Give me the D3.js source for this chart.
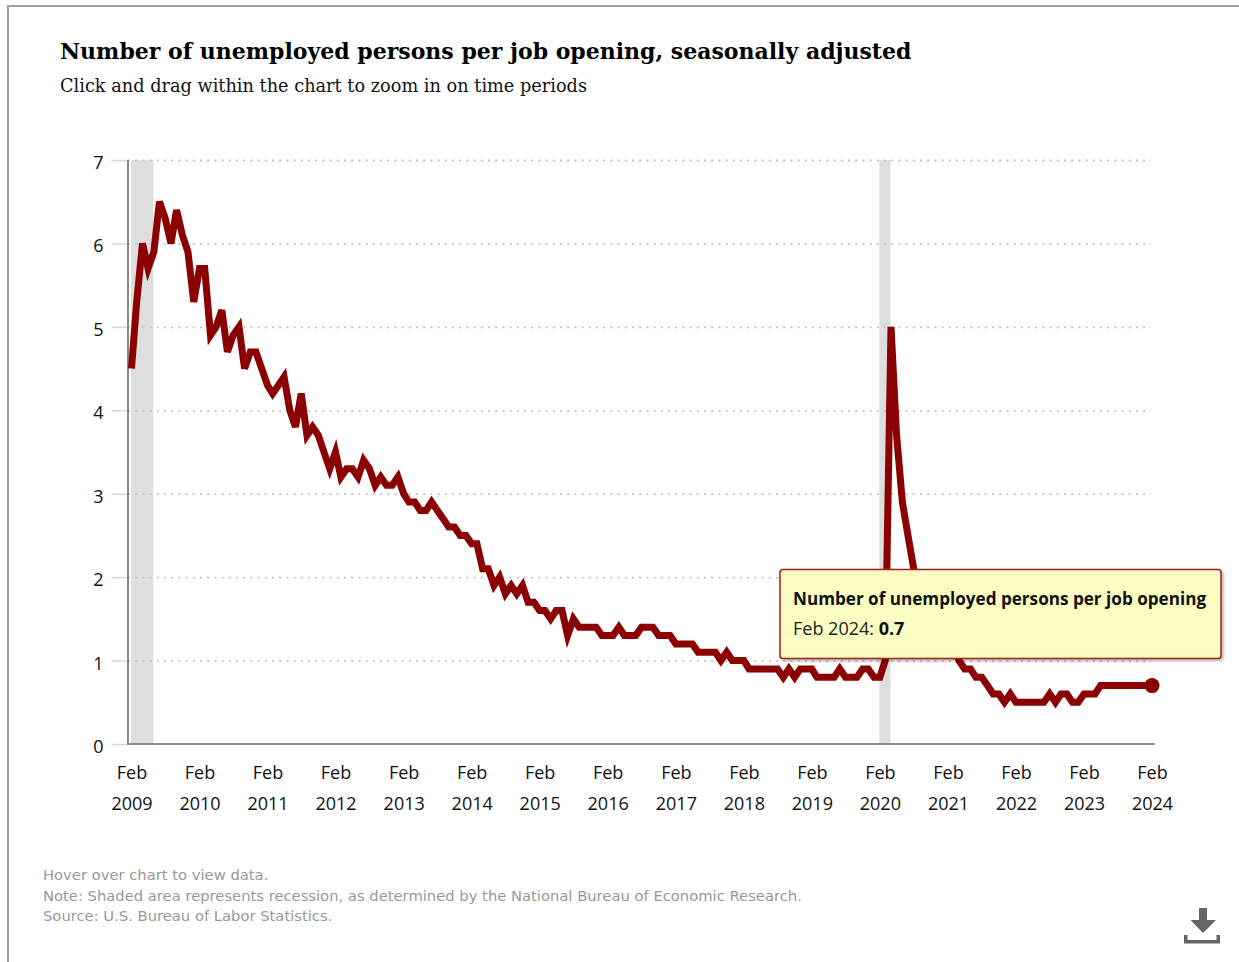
<!DOCTYPE html>
<html>
<head>
<meta charset="utf-8">
<script src="https://cdnjs.cloudflare.com/ajax/libs/d3/7.8.5/d3.min.js"></script>
<style>
  body { margin: 0; background: #fff; }
  svg { display: block; }
  .title { font-family: "DejaVu Serif", serif; font-weight: bold; font-size: 22px; fill: #000; }
  .subtitle { font-family: "DejaVu Serif", serif; font-size: 17.73px; fill: #111; }
  .tick text { font-family: "Open Sans", sans-serif; font-size: 18px; fill: #111; }
  .footnote { font-family: "DejaVu Sans", sans-serif; font-size: 14.75px; fill: #999; }
  .tipTitle { font-family: "Open Sans", sans-serif; font-weight: bold; font-size: 17.12px; fill: #111; }
  .tipText { font-family: "Open Sans", sans-serif; font-size: 18px; fill: #222; }
</style>
</head>
<body>
<div id="chart"></div>
<script>
// Values, one row per 12 months starting Feb 2009
var ratio = [
  4.5, 5.3, 6.0, 5.7, 5.9, 6.5, 6.3, 6.0, 6.4, 6.1, 5.9, 5.3,
  5.7, 5.7, 4.9, 5.0, 5.2, 4.7, 4.9, 5.0, 4.5, 4.7, 4.7, 4.5,
  4.3, 4.2, 4.3, 4.4, 4.0, 3.8, 4.2, 3.7, 3.8, 3.7, 3.5, 3.3,
  3.5, 3.2, 3.3, 3.3, 3.2, 3.4, 3.3, 3.1, 3.2, 3.1, 3.1, 3.2,
  3.0, 2.9, 2.9, 2.8, 2.8, 2.9, 2.8, 2.7, 2.6, 2.6, 2.5, 2.5,
  2.4, 2.4, 2.1, 2.1, 1.9, 2.0, 1.8, 1.9, 1.8, 1.9, 1.7, 1.7,
  1.6, 1.6, 1.5, 1.6, 1.6, 1.3, 1.5, 1.4, 1.4, 1.4, 1.4, 1.3,
  1.3, 1.3, 1.4, 1.3, 1.3, 1.3, 1.4, 1.4, 1.4, 1.3, 1.3, 1.3,
  1.2, 1.2, 1.2, 1.2, 1.1, 1.1, 1.1, 1.1, 1.0, 1.1, 1.0, 1.0,
  1.0, 0.9, 0.9, 0.9, 0.9, 0.9, 0.9, 0.8, 0.9, 0.8, 0.9, 0.9,
  0.9, 0.8, 0.8, 0.8, 0.8, 0.9, 0.8, 0.8, 0.8, 0.9, 0.9, 0.8,
  0.8, 1.0, 5.0, 3.7, 2.9, 2.5, 2.1, 1.9, 1.7, 1.6, 1.5, 1.6,
  1.4, 1.2, 1.0, 0.9, 0.9, 0.8, 0.8, 0.7, 0.6, 0.6, 0.5, 0.6,
  0.5, 0.5, 0.5, 0.5, 0.5, 0.5, 0.6, 0.5, 0.6, 0.6, 0.5, 0.5,
  0.6, 0.6, 0.6, 0.7, 0.7, 0.7, 0.7, 0.7, 0.7, 0.7, 0.7, 0.7,
  0.7
];
var yTicks = [0, 1, 2, 3, 4, 5, 6, 7];
var tickYears = [2009, 2010, 2011, 2012, 2013, 2014, 2015, 2016, 2017, 2018, 2019, 2020, 2021, 2022, 2023, 2024];
var recessionStart = [[2009, 1], [2020, 1]];
var recessionEnd = [[2009, 5], [2020, 3]];
var footnotes = [
  "Hover over chart to view data.",
  "Note: Shaded area represents recession, as determined by the National Bureau of Economic Research.",
  "Source: U.S. Bureau of Labor Statistics."
];

var svgWidth = 1239;
var svgHeight = 962;

var margin = { top: 160, right: 87, bottom: 218, left: 131.5 };
var width = svgWidth - margin.left - margin.right;
var height = svgHeight - margin.top - margin.bottom;

var svg = d3.select("#chart")
  .append("svg")
  .attr("width", svgWidth)
  .attr("height", svgHeight);

// Outer frame, only top and left show
svg.append("line").attr("x1", 8).attr("x2", 1239).attr("y1", 6).attr("y2", 6)
  .attr("stroke", "#a0a0a0").attr("stroke-width", 2);
svg.append("line").attr("x1", 8).attr("x2", 8).attr("y1", 5).attr("y2", 962)
  .attr("stroke", "#a0a0a0").attr("stroke-width", 2);

svg.append("text").attr("class", "title").attr("x", 60).attr("y", 59)
  .text("Number of unemployed persons per job opening, seasonally adjusted");
svg.append("text").attr("class", "subtitle").attr("x", 60).attr("y", 92)
  .text("Click and drag within the chart to zoom in on time periods");

var chartGroup = svg.append("g")
  .attr("transform", `translate(${margin.left}, ${margin.top})`);

var months = d3.timeMonth.range(new Date(2009, 1, 1), new Date(2024, 2, 1));

var x = d3.scaleTime()
  .domain([months[0], months[months.length - 1]])
  .range([0, width]);

var y = d3.scaleLinear()
  .domain([0, 7])
  .range([height, 0]);

// Recession bands
recessionStart.forEach(function(s, i) {
  var e = recessionEnd[i];
  chartGroup.append("rect")
    .attr("x", x(new Date(s[0], s[1], 1)) - 0.5)
    .attr("y", 0)
    .attr("width", x(new Date(e[0], e[1], 1)) - x(new Date(s[0], s[1], 1)))
    .attr("height", height)
    .attr("fill", "#dedede");
});

// Y axis with dotted grid lines
var leftAxis = d3.axisLeft(y)
  .tickValues(yTicks)
  .tickFormat(d3.format("d"))
  .tickSize(0)
  .tickPadding(28);

var yAxis = chartGroup.append("g").call(leftAxis);
yAxis.select(".domain").remove();
yAxis.selectAll(".tick text").attr("dy", "0.47em");

yAxis.selectAll(".tick").append("line")
  .attr("x1", -20).attr("x2", -3.5)
  .attr("stroke", "#ccd6eb").attr("stroke-width", 1.5);

yAxis.selectAll(".tick").filter(d => d > 0).append("line")
  .attr("x1", -3.5).attr("x2", width - 1)
  .attr("stroke", "#c4c4c4").attr("stroke-width", 1.8)
  .attr("stroke-dasharray", "2 5.2");

// X axis with two line labels
var bottomAxis = d3.axisBottom(x)
  .tickValues(tickYears.map(yr => new Date(yr, 1, 1)))
  .tickSize(0)
  .tickPadding(0)
  .tickFormat("");

var xAxis = chartGroup.append("g")
  .attr("transform", `translate(0, ${height})`)
  .call(bottomAxis);
xAxis.select(".domain").remove();

xAxis.selectAll(".tick text").each(function(d) {
  var t = d3.select(this).attr("y", 0).attr("dy", null);
  t.append("tspan").attr("x", 0).attr("y", 35).text("Feb");
  t.append("tspan").attr("x", 0).attr("y", 66).text(d.getFullYear());
});

chartGroup.append("line")
  .attr("x1", -3.5).attr("x2", -3.5).attr("y1", 0).attr("y2", height + 1)
  .attr("stroke", "#8a8a8a").attr("stroke-width", 2);
chartGroup.append("line")
  .attr("x1", -4.5).attr("x2", width + 3).attr("y1", height).attr("y2", height)
  .attr("stroke", "#8a8a8a").attr("stroke-width", 2);

// Line and last point
var line = d3.line()
  .x((d, i) => x(months[i]))
  .y(d => y(d));

chartGroup.append("path")
  .datum(ratio)
  .attr("d", line)
  .attr("fill", "none")
  .attr("stroke", "#8b0000")
  .attr("stroke-width", 7);

chartGroup.append("circle")
  .attr("cx", x(months[months.length - 1]))
  .attr("cy", y(ratio[ratio.length - 1]))
  .attr("r", 7.5)
  .attr("fill", "#8b0000");

// Tooltip
var defs = svg.append("defs");
var shadow = defs.append("filter").attr("id", "tipShadow")
  .attr("x", "-5%").attr("y", "-10%").attr("width", "110%").attr("height", "125%");
shadow.append("feDropShadow")
  .attr("dx", 1.5).attr("dy", 1.5).attr("stdDeviation", 1.5)
  .attr("flood-color", "#000").attr("flood-opacity", 0.35);

var tip = svg.append("g").attr("transform", "translate(780, 569.5)");
tip.append("rect")
  .attr("width", 441)
  .attr("height", 89)
  .attr("rx", 3)
  .attr("fill", "#fbfdc3")
  .attr("stroke", "#a81c1c")
  .attr("stroke-width", 1.5)
  .attr("filter", "url(#tipShadow)");
tip.append("text").attr("class", "tipTitle").attr("x", 13).attr("y", 35)
  .text("Number of unemployed persons per job opening");
var tipLine = tip.append("text").attr("class", "tipText").attr("x", 13).attr("y", 65);
tipLine.append("tspan").text("Feb 2024: ");
tipLine.append("tspan").attr("font-weight", "bold").attr("fill", "#111")
  .text(ratio[ratio.length - 1].toFixed(1));

// Footnotes
svg.selectAll(".footnote")
  .data(footnotes)
  .enter()
  .append("text")
  .attr("class", "footnote")
  .attr("x", 43)
  .attr("y", (d, i) => 880 + i * 20.5)
  .text(d => d);

// Download icon
var icon = svg.append("g").attr("fill", "#666");
icon.append("path").attr("d", "M1199 908H1207V920H1216L1203 933L1190.5 920H1199Z");
icon.append("path").attr("d", "M1184 935H1187.5V940H1216.5V935H1220V943.5H1184Z");
</script>
</body>
</html>
